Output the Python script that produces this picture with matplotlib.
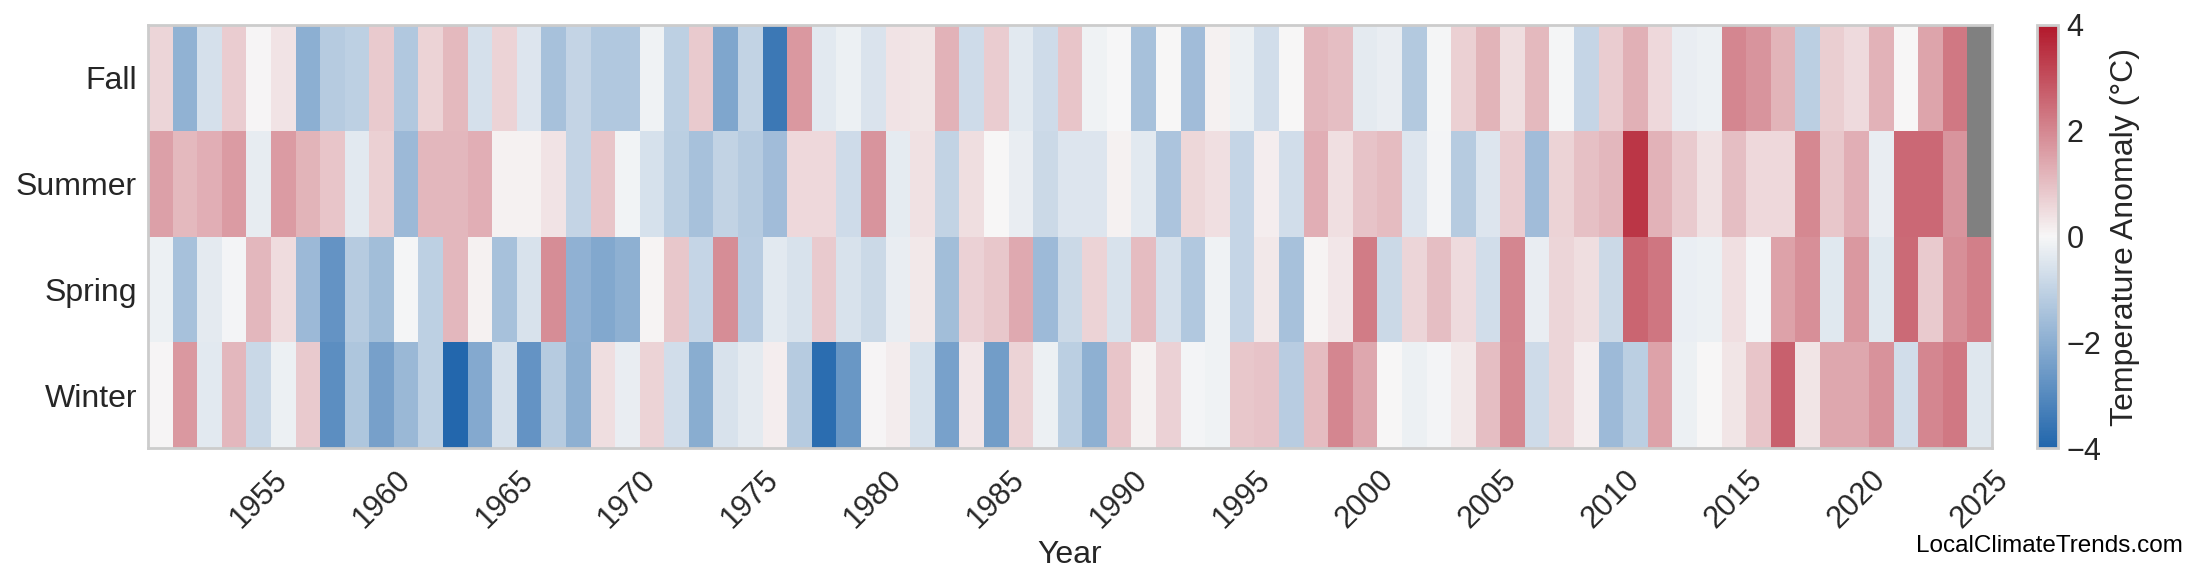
import matplotlib
matplotlib.use("Agg")
import matplotlib.pyplot as plt
from matplotlib.colors import LinearSegmentedColormap
import numpy as np

plt.rcParams['font.family'] = ['Liberation Sans', 'DejaVu Sans']

# seasonal temperature anomalies (degC), one value per year 1951..2025
years = list(range(1951, 2026))
seasons = ['Winter', 'Spring', 'Summer', 'Fall']

winter = [0.05, 1.7, -0.4, 1.15, -0.86, -0.2, 0.8, -2.88, -1.35, -2.4,
          -1.74, -1.08, -3.95, -2.13, -0.65, -2.75, -1.2, -1.94, 0.45, -0.28,
          0.65, -0.7, -2.05, -0.58, -0.36, 0.18, -1.2, -3.8, -2.63, 0.05,
          0.2, -0.6, -2.35, 0.29, -2.5, 0.65, -0.2, -1.12, -1.95, 0.88,
          0.12, 0.66, -0.07, -0.13, 0.85, 0.93, -1.16, 1.06, 2.0, 1.42,
          0.0, -0.2, -0.07, 0.27, 1.02, 1.97, -0.78, 0.6, 0.16, -1.68,
          -1.12, 1.52, -0.2, 0.0, 0.34, 0.9, 2.7, 0.34, 1.42, 1.42,
          1.8, -0.7, 2.0, 2.25, -0.45]
spring = [-0.19, -1.5, -0.35, -0.07, 1.13, 0.48, -1.7, -2.75, -1.2, -1.57,
          -0.05, -1.08, 1.15, 0.12, -1.5, -0.58, 1.9, -1.93, -2.17, -1.96,
          0.09, 0.85, -0.92, 1.9, -1.18, -0.4, -0.58, 0.8, -0.58, -0.82,
          -0.28, 0.27, -1.57, 0.66, 0.85, 1.38, -1.66, -0.82, 0.63, -0.58,
          1.06, -0.64, -1.3, -0.13, -0.92, 0.27, -1.48, 0.09, 0.29, 2.2,
          -0.82, 0.6, 1.02, 0.52, -0.7, 2.0, -0.28, 0.6, 0.45, -0.82,
          2.6, 2.3, -0.24, -0.2, 0.41, -0.07, 1.52, 1.85, -0.43, 1.69,
          -0.41, 2.53, 0.79, 1.87, 2.13]
summer = [1.56, 1.1, 1.3, 1.65, -0.3, 1.65, 1.2, 0.88, -0.4, 0.7,
          -1.7, 1.15, 1.15, 1.3, 0.12, 0.12, 0.35, -0.95, 0.9, -0.1,
          -0.6, -1.1, -1.5, -1.0, -1.2, -1.6, 0.54, 0.54, -0.78, 1.78,
          -0.32, 0.4, -0.98, 0.45, 0.0, -0.26, -0.82, -0.5, -0.5, 0.12,
          -0.4, -1.38, 0.57, 0.41, -0.93, 0.16, -0.7, 1.3, 0.41, 0.92,
          1.06, -0.47, -0.07, -1.2, -0.5, 0.77, -1.62, 0.63, 0.97, 1.13,
          3.44, 1.24, 0.8, 0.38, 1.02, 0.56, 0.56, 1.97, 0.85, 1.31,
          -0.28, 2.55, 2.55, 1.76, np.nan]
fall = [0.6, -1.9, -0.64, 0.75, 0.05, 0.35, -2.0, -1.2, -1.07, 0.8,
        -1.3, 0.63, 1.1, -0.63, 0.65, -0.5, -1.5, -0.95, -1.3, -1.3,
        -0.13, -1.07, 0.8, -2.25, -1.0, -3.5, 1.7, -0.4, -0.2, -0.54,
        0.35, 0.33, 1.22, -0.78, 0.75, -0.4, -0.78, 0.88, -0.13, -0.03,
        -1.5, 0.0, -1.62, 0.12, -0.2, -0.7, 0.0, 1.15, 1.0, -0.35,
        -0.28, -1.27, -0.05, 0.7, 1.2, 0.45, 1.1, -0.05, -0.92, 0.75,
        1.27, 0.54, -0.28, -0.2, 2.0, 1.78, 1.2, -1.1, 0.73, 0.52,
        1.24, 0.0, 1.47, 2.25, np.nan]

tick_years = list(range(1955, 2030, 5))

data = np.ma.masked_invalid(np.array([winter, spring, summer, fall]))

cmap = LinearSegmentedColormap.from_list('anom', ['#2166ac', '#f7f7f7', '#b2182b'])
cmap.set_bad('#808080')

W, H = 2200, 585
fig = plt.figure(figsize=(W / 100, H / 100), dpi=100)
ax = fig.add_axes([148 / W, 1 - 448 / H, 1844 / W, 423 / H])
cax = fig.add_axes([2037 / W, 1 - 448 / H, 21 / W, 423 / H])

mesh = ax.pcolormesh(data, cmap=cmap, vmin=-4, vmax=4)
ax.set_xlim(0, len(years))
ax.set_ylim(0, len(seasons))

ax.set_xticks([years.index(y) + 0.5 for y in tick_years])
ax.set_xticklabels([str(y) for y in tick_years], rotation=45, ha='center',
                   fontsize=22, color='#262626')
ax.set_yticks(np.arange(len(seasons)) + 0.5)
ax.set_yticklabels(seasons, fontsize=23, color='#262626')
ax.tick_params(axis='both', length=0)
ax.tick_params(axis='x', pad=12)
ax.tick_params(axis='y', pad=8)
ax.set_xlabel('Year', fontsize=23, color='#262626', labelpad=4)
for s in ax.spines.values():
    s.set_edgecolor('#cccccc')
    s.set_linewidth(2)

cb = fig.colorbar(mesh, cax=cax, ticks=[-4, -2, 0, 2, 4])
cb.outline.set_edgecolor('#cccccc')
cb.outline.set_linewidth(2)
cb.ax.tick_params(length=0, labelsize=22, labelcolor='#262626', pad=6)
cb.set_label('Temperature Anomaly (°C)', fontsize=23, color='#262626', labelpad=6)

fig.text(2183 / W, 1 - 552 / H, 'LocalClimateTrends.com', ha='right',
         va='baseline', fontsize=17.5, color='black')

fig.savefig('out.png', dpi=100)
